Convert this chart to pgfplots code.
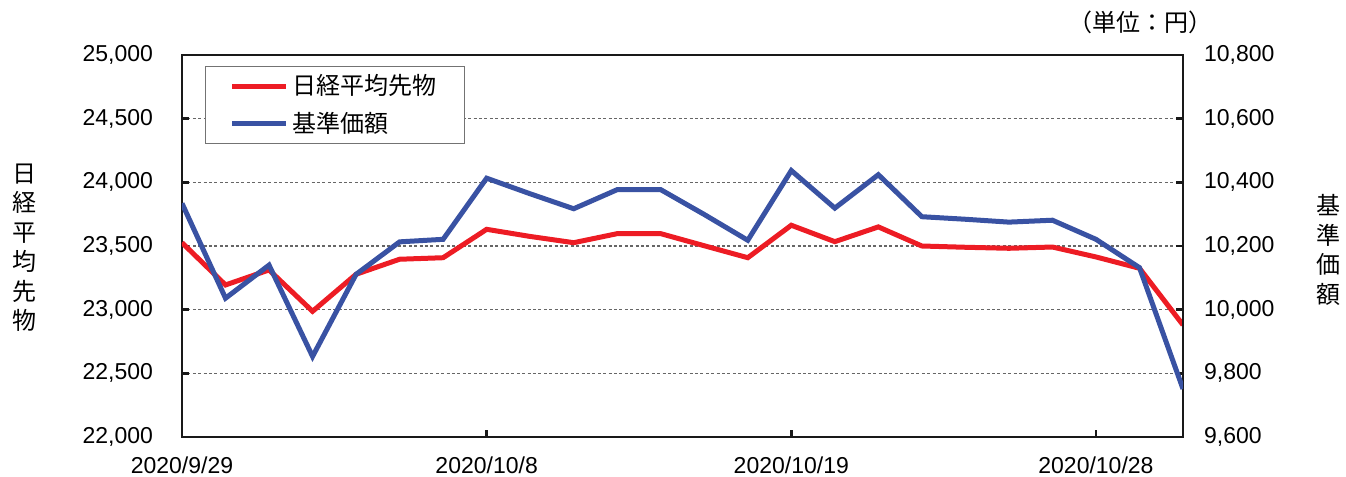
\documentclass[border=0pt]{standalone}
\usepackage{pgfplots}
\pgfplotsset{compat=1.18}
\usepackage{fontspec}
\setmainfont{Liberation Sans}
\newfontfamily\cjk{Noto Sans CJK JP}
\definecolor{nred}{RGB}{237,28,36}
\definecolor{nblue}{RGB}{57,82,163}
\begin{document}
\begin{tikzpicture}
\pgfplotsset{
  every tick label/.append style={font=\fontsize{11.5}{13}\selectfont},
  /pgf/number format/assume math mode=true,
  /pgf/number format/1000 sep={,},
}
\begin{axis}[
  name=main,
  scale only axis,
  width=500.5pt, height=191pt,
  xmin=0, xmax=23,
  ymin=22000, ymax=25000,
  ytick={22000,22500,23000,23500,24000,24500,25000},
  scaled ticks=false,
  xtick={0,7,14,21},
  xticklabels={2020/9/29,2020/10/8,2020/10/19,2020/10/28},
  xtick pos=bottom, ytick pos=left,
  tick align=inside,
  major tick length=3.5pt,
  axis line style={line width=1.4pt, black!90},
  tick style={line width=1.2pt, black!90},
  ymajorgrids,
  grid style={line width=0.6pt, black!60, dash pattern=on 1.5pt off 1.2pt},
  yticklabel style={xshift=-11pt},
  xticklabel style={yshift=-6.5pt},
  ylabel={日\\経\\平\\均\\先\\物},
  every axis y label/.style={at={(axis description cs:-0.157,0.495)}, anchor=center, align=center, font=\cjk\fontsize{12}{14.75}\selectfont},
  legend style={at={(axis description cs:0.023,0.971)}, anchor=north west,
    draw=black!55, line width=0.6pt, font=\cjk\fontsize{12}{14}\selectfont,
    inner xsep=12pt, inner ysep=2pt, row sep=3pt},
  legend cell align=left,
  legend image code/.code={\draw[#1, line width=2.5pt] (0pt,0pt) -- (27pt,0pt);},
]
\addplot[nred, line width=2.5pt] coordinates {
(0,23526) (1,23194) (2,23312) (3,22987) (4,23278) (5,23396) (6,23408) (7,23631)
(8,23575) (9,23526) (10,23597) (11,23597) (12,23502) (13,23408) (14,23663) (15,23534)
(16,23650) (17,23500) (18,23490) (19,23482) (20,23492) (21,23414) (22,23325) (23,22880)
};
\addlegendentry{日経平均先物}
\addlegendimage{nblue, line width=2.5pt}
\addlegendentry{基準価額}
\end{axis}
\begin{axis}[
  scale only axis,
  width=500.5pt, height=191pt,
  xmin=0, xmax=23,
  ymin=9600, ymax=10800,
  ytick={9600,9800,10000,10200,10400,10600,10800},
  scaled ticks=false,
  axis x line=none,
  axis y line*=right,
  tick align=inside,
  major tick length=3.5pt,
  axis line style={line width=1.4pt, black!90, -},
  tick style={line width=1.2pt, black!90},
  yticklabel style={xshift=7pt},
  ylabel={基\\準\\価\\額},
  every axis y label/.style={at={(axis description cs:1.145,0.49)}, anchor=center, align=center, font=\cjk\fontsize{12}{14.75}\selectfont},
]
\addplot[nblue, line width=2.5pt] coordinates {
(0,10334) (1,10036) (2,10140) (3,9853) (4,10111) (5,10213) (6,10221) (7,10413)
(8,10364) (9,10317) (10,10377) (11,10377) (12,10299) (13,10218) (14,10437) (15,10319)
(16,10424) (17,10292) (18,10284) (19,10275) (20,10281) (21,10221) (22,10132) (23,9751)
};
\end{axis}
\node[font=\cjk\fontsize{12}{14}\selectfont] at ([xshift=-21.5pt,yshift=16.5pt]main.north east) {（単位：円）};
\pgfresetboundingbox
\path[use as bounding box] ([xshift=-91pt,yshift=-20pt]main.south west) rectangle ([xshift=81.5pt,yshift=27.5pt]main.north east);
\end{tikzpicture}
\end{document}
